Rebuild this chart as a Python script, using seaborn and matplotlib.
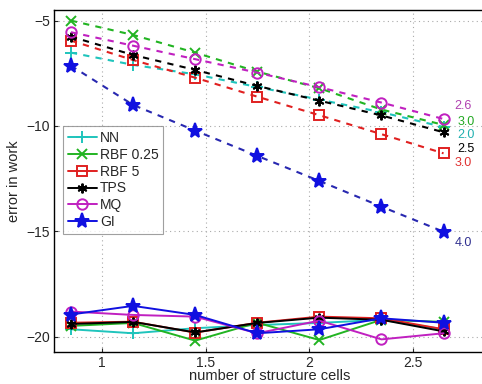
import matplotlib
matplotlib.use("Agg")
import matplotlib.pyplot as plt
import seaborn as sns
import numpy as np

# ---- data ----
cells = [0.85, 1.15, 1.45, 1.75, 2.05, 2.35, 2.65]
methods = ["NN", "RBF 0.25", "RBF 5", "TPS", "MQ", "GI"]
rates = ["2.0", "3.0", "3.0", "2.5", "2.6", "4.0"]

nn_up = [-6.52, -7.10, -7.55, -8.15, -8.75, -9.35, -10.05]
rbf025_up = [-5.00, -5.68, -6.52, -7.42, -8.21, -9.22, -9.95]
rbf5_up = [-5.95, -6.87, -7.71, -8.61, -9.49, -10.39, -11.30]
tps_up = [-5.76, -6.63, -7.34, -8.10, -8.80, -9.50, -10.30]
mq_up = [-5.55, -6.19, -6.83, -7.47, -8.16, -8.89, -9.67]
gi_up = [-7.14, -9.00, -10.22, -11.42, -12.61, -13.83, -15.02]

nn_lo = [-19.65, -19.84, -19.60, -19.45, -19.35, -19.20, -19.65]
rbf025_lo = [-19.49, -19.35, -20.19, -19.34, -20.16, -19.20, -19.30]
rbf5_lo = [-19.34, -19.29, -19.81, -19.34, -19.05, -19.13, -19.65]
tps_lo = [-19.40, -19.30, -19.80, -19.35, -19.10, -19.20, -19.75]
mq_lo = [-18.81, -18.97, -19.05, -19.84, -19.24, -20.13, -19.84]
gi_lo = [-18.95, -18.54, -18.97, -19.84, -19.65, -19.13, -19.34]

upper = [nn_up, rbf025_up, rbf5_up, tps_up, mq_up, gi_up]
lower = [nn_lo, rbf025_lo, rbf5_lo, tps_lo, mq_lo, gi_lo]

# ---- style ----
sns.set_style("ticks")
plt.rcParams["font.family"] = ["Liberation Sans", "DejaVu Sans"]
plt.rcParams["xtick.direction"] = "in"
plt.rcParams["ytick.direction"] = "in"

colors = ["#1fc4bc", "#22b422", "#e02020", "#000000", "#c020c0", "#1010e0"]
dash_colors = ["#1fc4bc", "#22b422", "#e02020", "#000000", "#c020c0", "#2828b0"]
text_colors = ["#20b0b0", "#22a822", "#e03030", "#000000", "#b040b0", "#303090"]
markers = ["+", "x", "s", (6, 2, 0), "o", "*"]
msizes = [8, 6.5, 6.5, 7, 7.5, 11]
filled = [True, True, False, True, False, True]
label_offsets = [(14, -8), (14, 3), (11, -10), (14, -17), (11, 13), (11, -11)]

fig = plt.figure(figsize=(4.82, 3.84), dpi=100)
ax = fig.add_axes([0.112, 0.0833, 0.895, 0.891])

for i, m in enumerate(methods):
    fc = colors[i] if filled[i] else "none"
    sns.lineplot(x=cells, y=upper[i], ax=ax, color=dash_colors[i],
                 linestyle=(0, (3, 3)), linewidth=1.5,
                 marker=markers[i], markersize=msizes[i],
                 markerfacecolor=fc, markeredgecolor=colors[i],
                 markeredgewidth=1.4, legend=False)
    sns.lineplot(x=cells, y=lower[i], ax=ax, color=colors[i],
                 linestyle="-", linewidth=1.4,
                 marker=markers[i], markersize=msizes[i],
                 markerfacecolor=fc, markeredgecolor=colors[i],
                 markeredgewidth=1.4, label=m)
    dx, dy = label_offsets[i]
    ax.annotate(rates[i], xy=(cells[-1], upper[i][-1]),
                xytext=(dx * 0.72, dy * 0.72),
                textcoords="offset points", color=text_colors[i],
                fontsize=9, ha="left", va="center", annotation_clip=False)

ax.set_xlim(0.768, 2.852)
ax.set_ylim(-20.73, -4.49)
ax.set_xticks([1, 1.5, 2, 2.5])
ax.set_xticklabels(["1", "1.5", "2", "2.5"])
ax.set_yticks([-5, -10, -15, -20])
ax.set_yticklabels(["\u22125", "\u221210", "\u221215", "\u221220"])
ax.tick_params(labelsize=10, length=3, width=0.8, pad=3)
ax.grid(True, linestyle=(0, (1, 3)), color="#aaaaaa", linewidth=0.8)
for s in ax.spines.values():
    s.set_linewidth(1.0)
    s.set_color("black")

ax.set_xlabel("number of structure cells", fontsize=10.5, labelpad=-1)
ax.set_ylabel("error in work", fontsize=10.5, labelpad=4)

leg = ax.legend(loc="upper left", bbox_to_anchor=(0.021, 0.66), fontsize=10,
                frameon=True, fancybox=False, edgecolor="#888888",
                handlelength=2.1, labelspacing=0.2, borderpad=0.35,
                handletextpad=0.2, borderaxespad=0)
leg.get_frame().set_linewidth(0.8)

fig.savefig("out.png", dpi=100)
